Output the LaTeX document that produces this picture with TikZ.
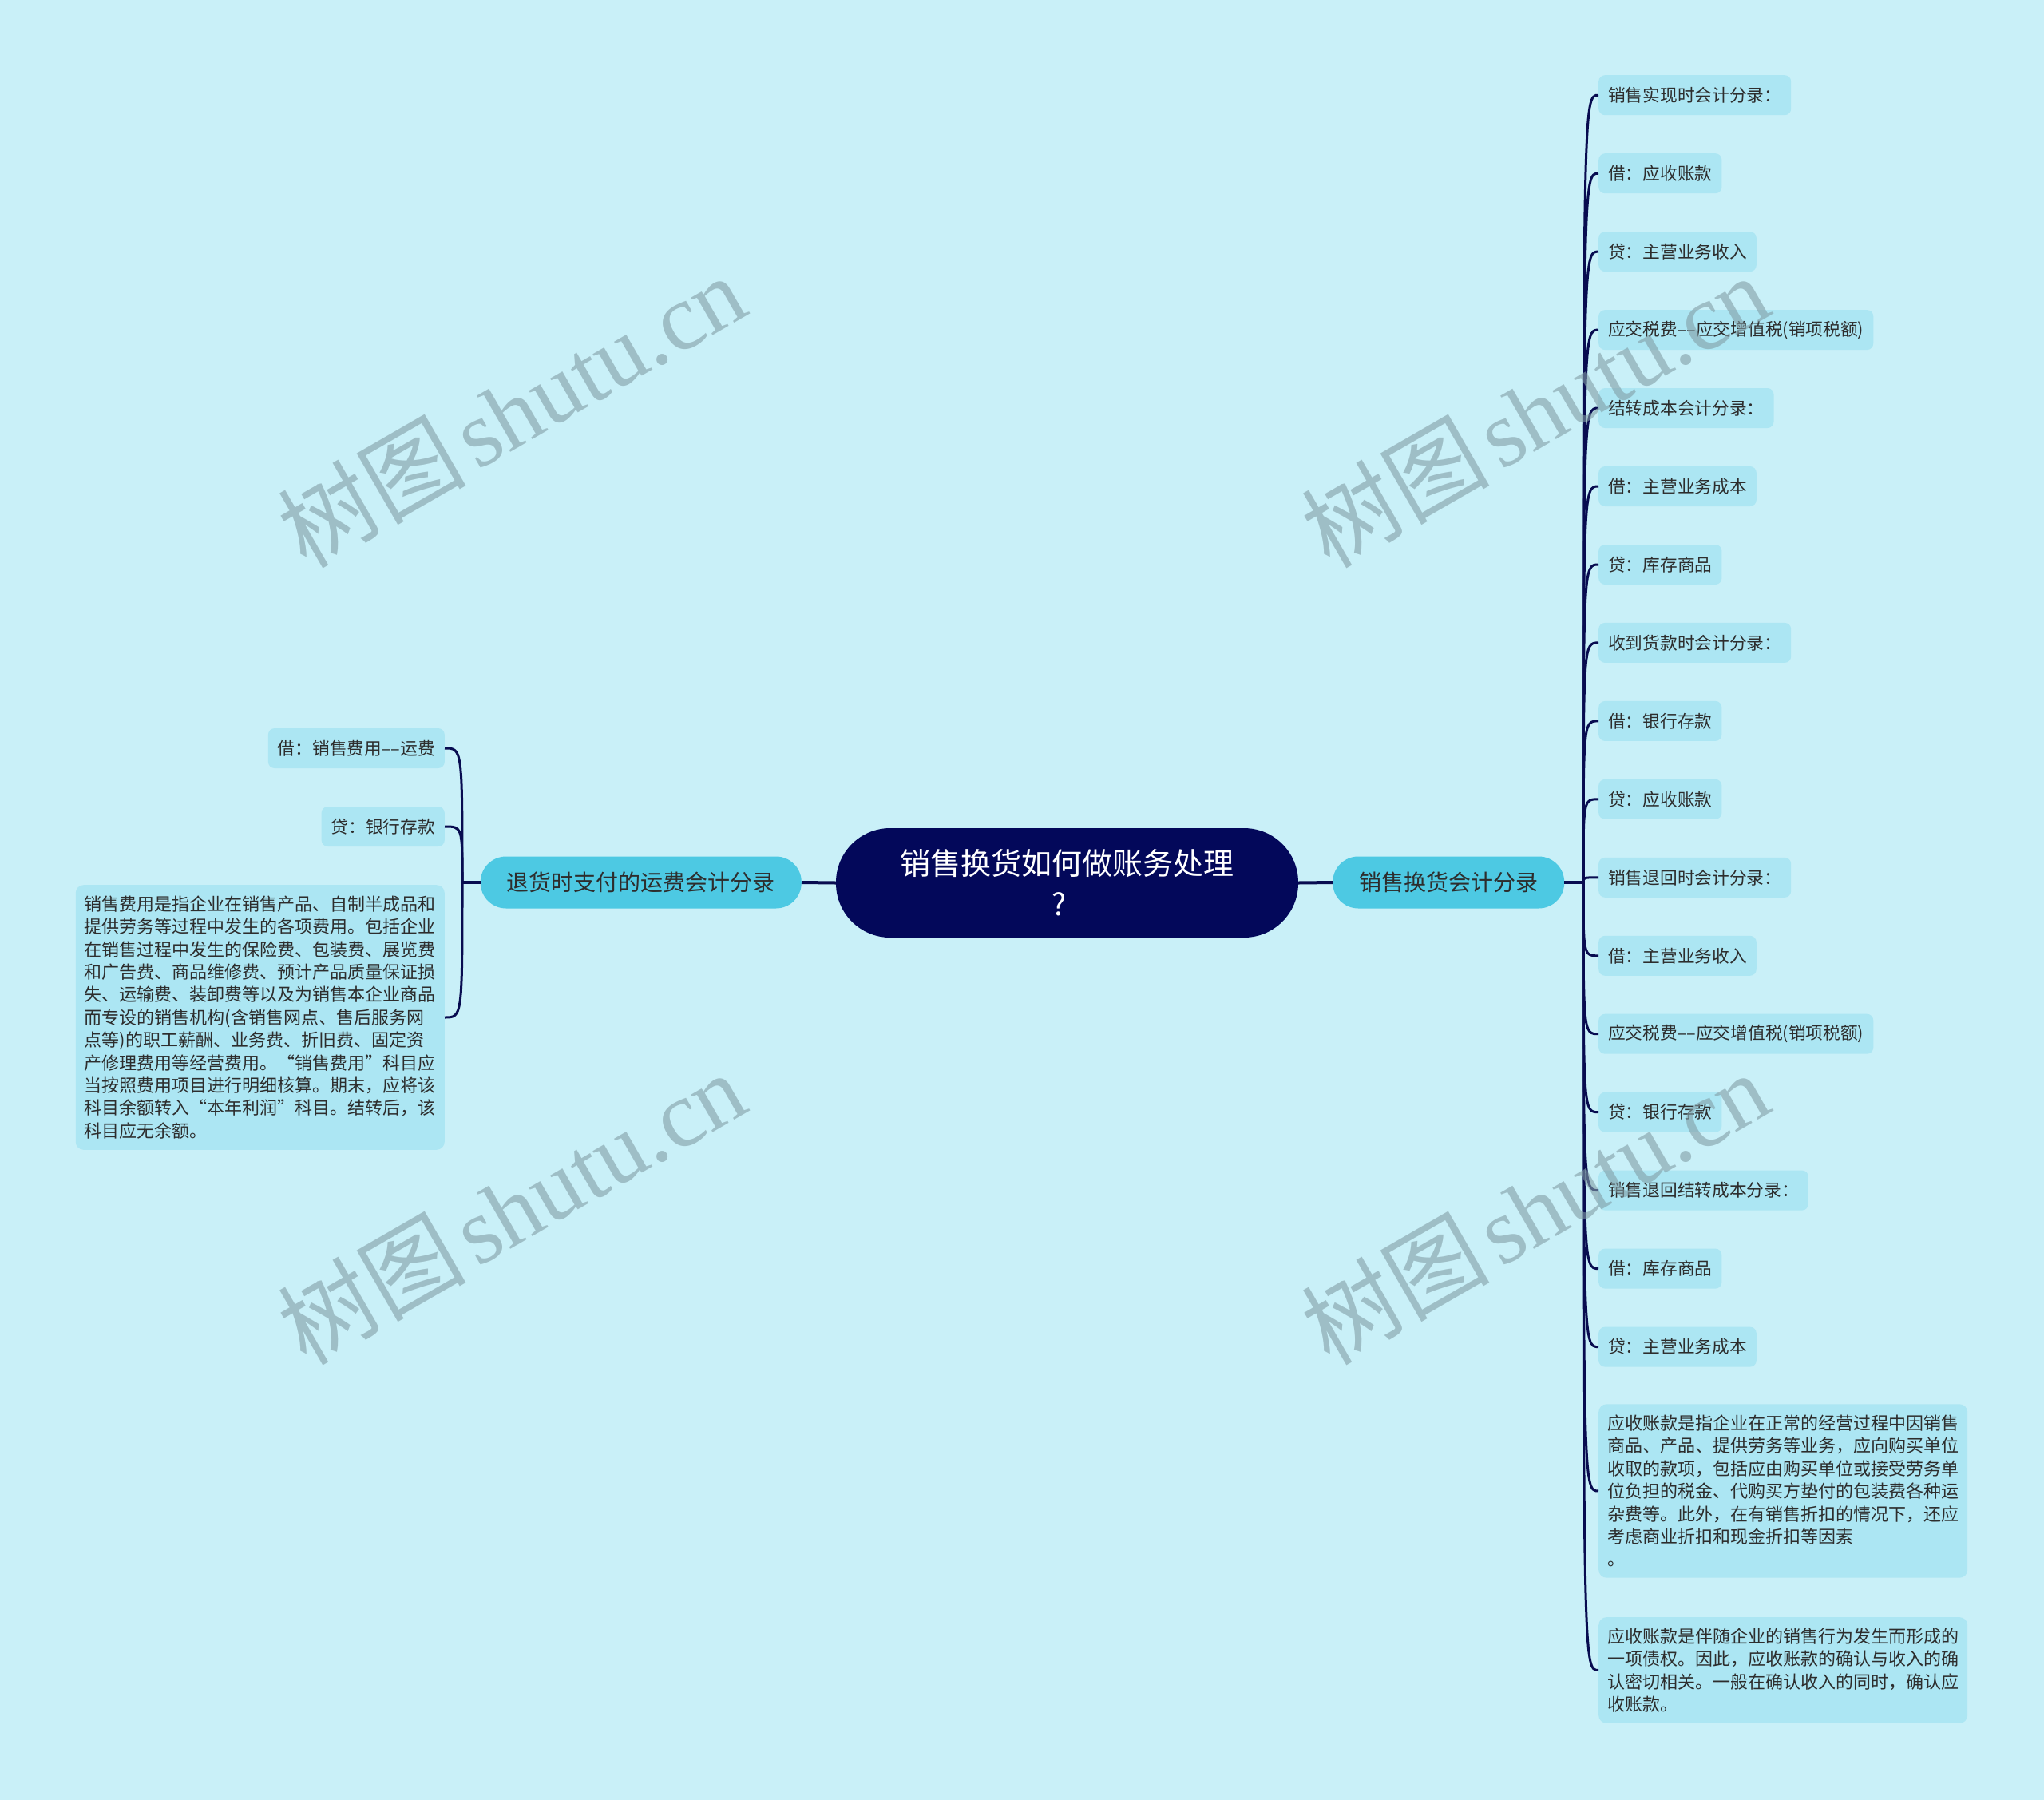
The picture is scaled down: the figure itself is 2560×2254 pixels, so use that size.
\documentclass[tikz,border=0pt]{standalone}
\usepackage{fontspec}
\setmainfont{Noto Sans CJK SC}
\newfontfamily\wmlatin{Liberation Serif}
\usetikzlibrary{calc}
\definecolor{bgc}{RGB}{201,240,248}
\definecolor{leafc}{RGB}{172,230,243}
\definecolor{branchc}{RGB}{77,201,227}
\definecolor{rootc}{RGB}{3,8,90}
\definecolor{linec}{RGB}{8,12,80}
\definecolor{txtc}{RGB}{45,45,45}
\definecolor{wmc}{RGB}{130,158,166}
\tikzset{
  leaf/.style={fill=leafc, rounded corners=8pt, minimum height=50pt, inner xsep=12pt, inner ysep=0pt, text=txtc, font=\fontsize{21.7}{26}\selectfont},
  bigleaf/.style={fill=leafc, rounded corners=10pt, inner xsep=11pt, inner ysep=13.5pt, text width=440pt, align=left, text=txtc, font=\fontsize{22}{28.4}\selectfont},
  branch/.style={fill=branchc, rounded corners=32pt, minimum height=65pt, inner xsep=33pt, text=txtc, font=\fontsize{28}{34}\selectfont},
  root/.style={fill=rootc, rounded corners=68pt, minimum width=579pt, minimum height=137pt, text=white, align=center, font=\fontsize{38}{51}\selectfont},
  conn/.style={draw=linec, line width=3pt},
  stub/.style={draw=linec, line width=4pt},
  wm/.style={text=wmc, opacity=0.6, font=\fontsize{118}{130}\selectfont, rotate=30}
}
\begin{document}
\begin{tikzpicture}[x=1pt,y=-1pt]
\fill[bgc] (0,0) rectangle (2560,2254);
\useasboundingbox (0,0) rectangle (2560,2254);

\node[root] (root) at (1336.5,1105.5) {销售换货如何做账务处理\\?\hspace*{20pt}};
\node[branch, anchor=west] (rb) at (1669,1105) {销售换货会计分录};
\node[branch, anchor=east] (lb) at (1004,1105) {退货时支付的运费会计分录};
\coordinate (rf) at (1983,1105);
\coordinate (lf) at (579,1105);

% right leaves
\node[leaf, anchor=west] (r0) at (2002,119.2) {销售实现时会计分录：};
\node[leaf, anchor=west] (r1) at (2002,217.2) {借：应收账款};
\node[leaf, anchor=west] (r2) at (2002,315.1) {贷：主营业务收入};
\node[leaf, anchor=west] (r3) at (2002,413.1) {应交税费––应交增值税(销项税额)};
\node[leaf, anchor=west] (r4) at (2002,511.0) {结转成本会计分录：};
\node[leaf, anchor=west] (r5) at (2002,609.0) {借：主营业务成本};
\node[leaf, anchor=west] (r6) at (2002,707.0) {贷：库存商品};
\node[leaf, anchor=west] (r7) at (2002,804.9) {收到货款时会计分录：};
\node[leaf, anchor=west] (r8) at (2002,902.9) {借：银行存款};
\node[leaf, anchor=west] (r9) at (2002,1000.8) {贷：应收账款};
\node[leaf, anchor=west] (r10) at (2002,1098.8) {销售退回时会计分录：};
\node[leaf, anchor=west] (r11) at (2002,1196.8) {借：主营业务收入};
\node[leaf, anchor=west] (r12) at (2002,1294.7) {应交税费––应交增值税(销项税额)};
\node[leaf, anchor=west] (r13) at (2002,1392.7) {贷：银行存款};
\node[leaf, anchor=west] (r14) at (2002,1490.6) {销售退回结转成本分录：};
\node[leaf, anchor=west] (r15) at (2002,1588.6) {借：库存商品};
\node[leaf, anchor=west] (r16) at (2002,1686.6) {贷：主营业务成本};
\node[bigleaf, anchor=west] (r17) at (2002,1867) {应收账款是指企业在正常的经营过程中因销售\\商品、产品、提供劳务等业务，应向购买单位\\收取的款项，包括应由购买单位或接受劳务单\\位负担的税金、代购买方垫付的包装费各种运\\杂费等。此外，在有销售折扣的情况下，还应\\考虑商业折扣和现金折扣等因素\\。};
\node[bigleaf, anchor=west] (r18) at (2002,2091.5) {应收账款是伴随企业的销售行为发生而形成的\\一项债权。因此，应收账款的确认与收入的确\\认密切相关。一般在确认收入的同时，确认应\\收账款。};

% left leaves
\node[leaf, anchor=east] (l0) at (557,937) {借：销售费用––运费};
\node[leaf, anchor=east] (l1) at (557,1035) {贷：银行存款};
\node[bigleaf, anchor=east] (l2) at (557,1274) {销售费用是指企业在销售产品、自制半成品和\\提供劳务等过程中发生的各项费用。包括企业\\在销售过程中发生的保险费、包装费、展览费\\和广告费、商品维修费、预计产品质量保证损\\失、运输费、装卸费等以及为销售本企业商品\\而专设的销售机构(含销售网点、售后服务网\\点等)的职工薪酬、业务费、折旧费、固定资\\产修理费用等经营费用。“销售费用”科目应\\当按照费用项目进行明细核算。期末，应将该\\科目余额转入“本年利润”科目。结转后，该\\科目应无余额。};

% connectors
\draw[stub] (root.east) -- (rb.west);
\draw[stub] (root.west) -- (lb.east);
\draw[stub] (rb.east) -- (rf);
\draw[stub] (lb.west) -- (lf);
\foreach \n in {r0,r1,r2,r3,r4,r5,r6,r7,r8,r9,r10,r11,r12,r13,r14,r15,r16,r17,r18}{
  \draw[conn] (rf) .. controls (rf |- \n.west) and (rf |- \n.west) .. (\n.west);
}
\foreach \n in {l0,l1,l2}{
  \draw[conn] (lf) .. controls (lf |- \n.east) and (lf |- \n.east) .. (\n.east);
}

% watermarks
\node[wm] (w1) at (640,514) {树图\hspace{12pt}{\wmlatin shutu.cn}};
\node[wm] (w2) at (1922,514) {树图\hspace{12pt}{\wmlatin shutu.cn}};
\node[wm] (w3) at (640,1512) {树图\hspace{12pt}{\wmlatin shutu.cn}};
\node[wm] (w4) at (1922,1512) {树图\hspace{12pt}{\wmlatin shutu.cn}};
\end{tikzpicture}
\end{document}
